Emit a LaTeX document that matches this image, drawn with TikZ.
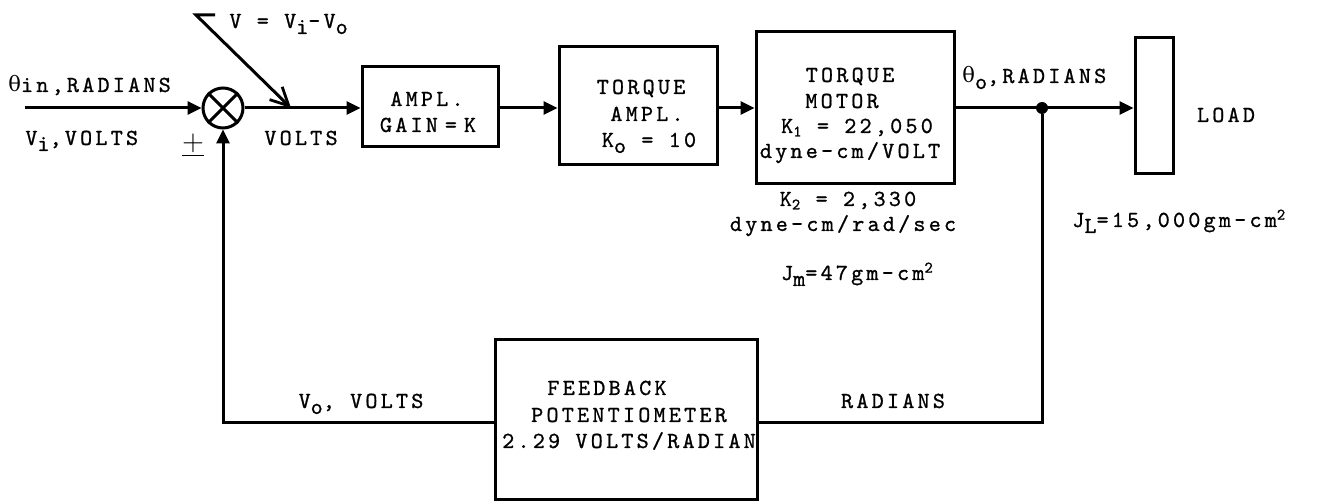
\documentclass[tikz,border=0pt]{standalone}
\usepackage{fontspec}
\newfontfamily\grfont{DejaVu Serif}
\newfontfamily\twfont{lmmono10-regular.otf}[LetterSpace=14,FakeBold=0.9]
\usetikzlibrary{arrows.meta}
\newcommand\lowsub[1]{\raisebox{-0.6ex}{#1}}
\newcommand\smsub[1]{\raisebox{-0.35ex}{\footnotesize #1}}
\newcommand\upsup[1]{\raisebox{0.75ex}{\footnotesize #1}}
\newcommand\thet{{\grfont\fontsize{10.5}{12}\selectfont θ}}
\begin{document}
\begin{tikzpicture}[x=0.5pt,y=-0.5pt,
  every node/.style={font=\twfont\fontsize{11.5}{13}\selectfont, inner sep=0pt},
  blk/.style={draw, line width=1.5pt},
  wire/.style={line width=1.5pt},
  arr/.style={wire, -{Triangle[length=7pt,width=6.5pt]}},
  tx/.style={anchor=base}]
\useasboundingbox (0,0) rectangle (1324,502);
% summing junction
\node[draw, circle, line width=1.5pt, minimum size=20pt] (sum) at (223,108) {};
\draw[line width=1.5pt] (sum.north west) -- (sum.south east) (sum.north east) -- (sum.south west);
% blocks (corners from the reference)
\node[blk, minimum width=68pt, minimum height=40pt] (ampl) at (430,107) {};
\node[blk, minimum width=79pt, minimum height=59pt] (tampl) at (638,106) {};
\node[blk, minimum width=99pt, minimum height=76pt] (tmot) at (855,108) {};
\node[blk, minimum width=19pt, minimum height=68pt] (load) at (1154,106) {};
\node[blk, minimum width=131pt, minimum height=80pt] (fb) at (626,420) {};
% block texts
\node[tx] (a1) at (427,106) {AMPL.};
\node[tx] (a2) at (428,132) {GAIN\hspace{3.5pt}=\hspace{3.5pt}K};
\node[tx] (t1) at (641,94) {TORQUE};
\node[tx] (t2) at (647,121) {AMPL.};
\node[tx] (t3) at (649,147) {K\lowsub{o} = 10};
\node[tx] (m1) at (850,82) {TORQUE};
\node[tx] (m2) at (842,108) {MOTOR};
\node[tx] (m3) at (857,133) {K\smsub{1} = 22,050};
\node[tx] (m4) at (850,158) {dyne-cm/VOLT};
\node[tx] (f1) at (607,395) {FEEDBACK};
\node[tx] (f2) at (629,422) {POTENTIOMETER};
\node[tx] (f3) at (629,448) {2.29 VOLTS/RADIAN};
% coordinates
\coordinate (in) at (25,108);
\coordinate (vtop) at (196,15);
\coordinate (vstub) at (215,15);
\coordinate (vend) at (291,108);
\node[circle, fill, minimum size=6pt] (dot) at (1042,108) {};
\coordinate (br) at (1042,423);
\coordinate (bl) at (223,423);
% connectors
\draw[arr] (in) -- (sum.west);
\draw[arr] (sum.east) -- (sum.east -| ampl.west);
\draw[arr] (ampl.east |- 0,108) -- (tampl.west |- 0,108);
\draw[arr] (tampl.east |- 0,108) -- (tmot.west |- 0,108);
\draw[arr] (tmot.east |- 0,108) -- (load.west |- 0,108);
\draw[wire, -{Straight Barb[length=9pt,width=9pt,line width=1.4pt]}] (vstub) -- (vtop) -- (vend);
\draw[wire] (dot) -- (br) -- (br -| fb.east);
\draw[arr] (fb.west |- bl) -- (bl) -- (sum.south);
% labels
\node[anchor=base west] (vlab) at (229,28) {V = V\lowsub{i}-V\lowsub{o}};
\node[anchor=base west] (thin) at (8,92) {\thet in,RADIANS};
\node[anchor=base west] (vin) at (25,145) {V\lowsub{i},VOLTS};
\node (pm) at (193,145) {\fontsize{15}{15}\selectfont$\underline{+}$};
\node[tx] (volts) at (301,145) {VOLTS};
\node[anchor=base west] (tho) at (962,83) {\thet\lowsub{o},RADIANS};
\node[tx] (loadl) at (1226,122) {LOAD};
\node[anchor=base west] (jl) at (1072,227) {J\lowsub{L}=15,000gm-cm\upsup{2}};
\node[tx] (k2) at (848,206) {K\smsub{2} = 2,330};
\node[tx] (k2u) at (843,231) {dyne-cm/rad/sec};
\node[tx] (jm) at (857,280) {J\lowsub{m}=47gm-cm\upsup{2}};
\node[tx] (vo) at (361,408) {V\lowsub{o}, VOLTS};
\node[tx] (rad) at (893,408) {RADIANS};
\end{tikzpicture}
\end{document}
